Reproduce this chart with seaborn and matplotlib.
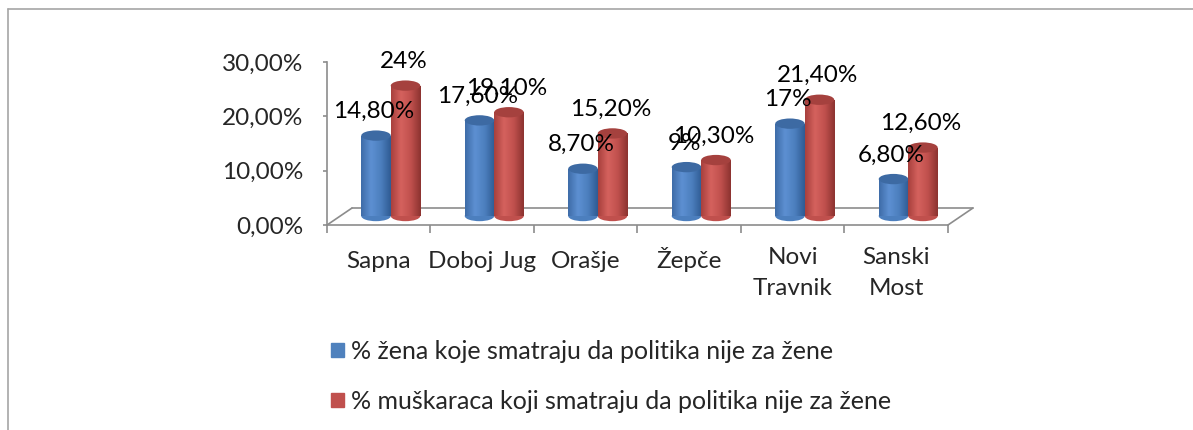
import numpy as np
import pandas as pd
import matplotlib
matplotlib.use("Agg")
import matplotlib.pyplot as plt
import matplotlib.transforms as mtransforms
from matplotlib.patches import Ellipse, Patch
from matplotlib.lines import Line2D
from matplotlib.colors import LinearSegmentedColormap, to_hex
from matplotlib.ticker import FuncFormatter
import seaborn as sns

# podaci
opcine = ["Sapna", "Doboj Jug", "Orašje", "Žepče", "Novi\nTravnik", "Sanski\nMost"]
zene = [14.8, 17.6, 8.7, 9.0, 17.0, 6.8]
muskarci = [24.0, 19.1, 15.2, 10.3, 21.4, 12.6]
serije = ["% žena koje smatraju da politika nije za žene",
          "% muškaraca koji smatraju da politika nije za žene"]
y_tickovi = [0, 10, 20, 30]

boje = ["#4F81BD", "#C0504D"]
gradijenti = [["#3E6CA8", "#5D90D2", "#4C7FBE", "#2F5B93"],
              ["#A8403D", "#D5625E", "#C0504D", "#8C3330"]]
vrh_boje = ["#3D6AA3", "#A5413E"]
siva = "#8C8C8C"

df = pd.DataFrame({
    "opcina": opcine * 2,
    "grupa": [serije[0]] * len(opcine) + [serije[1]] * len(opcine),
    "vrijednost": zene + muskarci,
})

sns.set_style("white")
plt.rcParams["font.family"] = ["Lato", "DejaVu Sans"]
FS = 17.5
RAZMAK = 1.6

fig = plt.figure(figsize=(11.93, 4.30), dpi=100)
ax = fig.add_axes([0.2741, 0.4767, 0.5205, 0.3791])

sns.barplot(data=df, x="opcina", y="vrijednost", hue="grupa", order=opcine,
            hue_order=serije, palette=boje, saturation=1, width=0.57,
            errorbar=None, legend=False, linewidth=0, ax=ax)

# 3D pomak stupaca (malo desno i gore, kao u Excelu)
pomak = mtransforms.ScaledTranslation(0.12, 0.09, fig.dpi_scale_trans)
trans = ax.transData + pomak

eh = 1.9  # visina elipse u jedinicama osi y
grad = np.linspace(0, 1, 64).reshape(1, -1)
bars = list(ax.patches)
for bar in bars:
    s = 0 if to_hex(bar.get_facecolor()).upper() == boje[0].upper() else 1
    x0, w, h = bar.get_x(), bar.get_width(), bar.get_height()
    bar.set_transform(trans)
    cmap = LinearSegmentedColormap.from_list("c%d" % s, gradijenti[s])
    img = ax.imshow(grad, cmap=cmap, extent=(x0, x0 + w, 0, h), aspect="auto",
                    interpolation="bicubic", zorder=bar.get_zorder() + 0.1)
    img.set_transform(trans)
    img.set_clip_path(bar)
    ax.add_patch(Ellipse((x0 + w / 2, 0), w, eh, transform=trans,
                         color=gradijenti[s][2], zorder=bar.get_zorder() - 0.1, lw=0))
    ax.add_patch(Ellipse((x0 + w / 2, h), w, eh, transform=trans,
                         color=vrh_boje[s], zorder=bar.get_zorder() + 0.2, lw=0))
    tekst = f"{h:.0f}%" if float(h).is_integer() else f"{h:.2f}%".replace(".", ",")
    ax.annotate(tekst, (x0 + w / 2, h), xycoords=trans, xytext=(-2, 24),
                textcoords="offset pixels", ha="center", va="center",
                fontsize=FS, color="black", zorder=10)

ax.set_xlim(-0.5, len(opcine) - 0.5)
ax.set_ylim(0, 30)
ax.set_yticks(y_tickovi)
ax.yaxis.set_major_formatter(FuncFormatter(lambda v, p: f"{v:.2f}%".replace(".", ",")))
ax.set_xticks(range(len(opcine)))
ax.set_xticklabels(opcine, linespacing=RAZMAK)
ax.set_xticks(np.arange(-0.5, len(opcine)), minor=True)
ax.set_xlabel("")
ax.set_ylabel("")

for k in ["top", "right"]:
    ax.spines[k].set_visible(False)
for k in ["left", "bottom"]:
    ax.spines[k].set_color(siva)
    ax.spines[k].set_linewidth(1.2)

ax.tick_params(axis="y", left=True, length=3, width=1.2, color=siva, pad=14,
               labelsize=FS)
ax.tick_params(axis="x", which="major", bottom=True, length=0, pad=31, labelsize=FS)
ax.tick_params(axis="x", which="minor", bottom=True, length=6, width=1.2, color=siva)

# pod (3D)
poz = ax.get_position()
ax_w = poz.width * fig.get_figwidth() * fig.dpi
ax_h = poz.height * fig.get_figheight() * fig.dpi
dx, dy = 25 / ax_w, 17 / ax_h
for xs, ys in [([dx, 1 + dx], [dy, dy]), ([0, dx], [0, dy]), ([1, 1 + dx], [0, dy])]:
    ax.plot(xs, ys, transform=ax.transAxes, color=siva, lw=1.2, clip_on=False, zorder=0.5)

# okvir grafikona
okvir = "#A6A6A6"
fig.add_artist(Line2D([8 / 1193, 8 / 1193], [0, 1 - 9 / 430], transform=fig.transFigure,
                      color=okvir, lw=1.2))
fig.add_artist(Line2D([8 / 1193, 1], [1 - 9 / 430, 1 - 9 / 430], transform=fig.transFigure,
                      color=okvir, lw=1.2))

fig.legend(handles=[Patch(color=c) for c in boje], labels=serije,
           loc="upper left", bbox_to_anchor=(0.2775, 0.21), frameon=False,
           fontsize=18, handlelength=0.5, handleheight=0.5, handletextpad=0.3,
           labelspacing=1.1, borderpad=0, borderaxespad=0)

# nazivi opcina poravnati po osnovnoj liniji prvog retka (Ž ne spusta tekst)
fig.canvas.draw()
rend = fig.canvas.get_renderer()
for lab in ax.get_xticklabels():
    lab.set_verticalalignment("baseline")
    n = lab.get_text().count("\n")
    if n:
        _, lh, ld = rend.get_text_width_height_descent("lp", lab.get_fontproperties(), ismath=False)
        korak = RAZMAK * (lh - ld)
        lab.set_transform(lab.get_transform() + mtransforms.ScaledTranslation(
            0, -n * korak / fig.dpi, fig.dpi_scale_trans))

fig.savefig("out.png", dpi=100)
